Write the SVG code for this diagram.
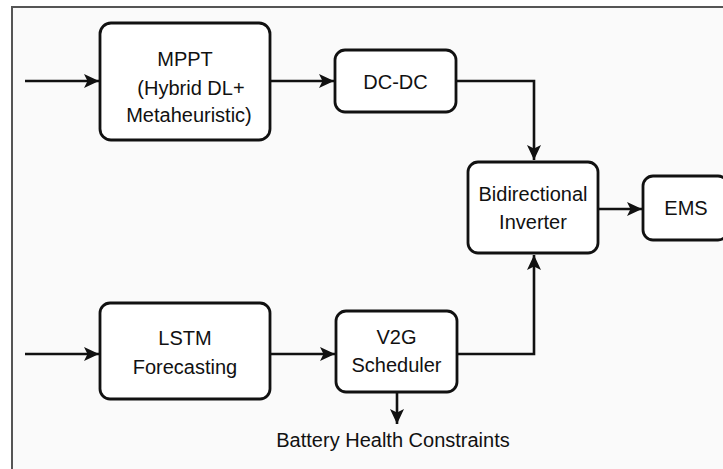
<svg xmlns="http://www.w3.org/2000/svg" width="723" height="469" viewBox="0 0 723 469">
<style>
.box{fill:#ffffff;stroke:#111;stroke-width:2.8}
.t{font-family:"Liberation Sans",Arial,sans-serif;font-size:20px;fill:#111;text-anchor:middle}
.c{fill:none;stroke:#111;stroke-width:2.6}
</style>
<defs>
<marker id="ah" viewBox="0 0 15 14" refX="15" refY="7" markerWidth="15" markerHeight="14" markerUnits="userSpaceOnUse" orient="auto">
<path d="M0,0 L15,7 L0,14 L3.5,7 Z" fill="#111"/>
</marker>
</defs>
<rect x="0" y="0" width="723" height="469" fill="#ffffff"/>
<rect x="12" y="7" width="711" height="462" fill="#fafafa"/>
<g id="frame" stroke="#555" stroke-width="2" fill="none">
<path d="M12,469 L12,7 L723,7"/>
</g>
<g id="connectors">
<path class="c" d="M25,81 L99,81" marker-end="url(#ah)"/>
<path class="c" d="M270,81 L334,81" marker-end="url(#ah)"/>
<path class="c" d="M456,81 L534,81 L534,160" marker-end="url(#ah)"/>
<path class="c" d="M598,209 L642,209" marker-end="url(#ah)"/>
<path class="c" d="M25,354 L99,354" marker-end="url(#ah)"/>
<path class="c" d="M270,354 L335,354" marker-end="url(#ah)"/>
<path class="c" d="M457,354 L534,354 L534,255" marker-end="url(#ah)"/>
<path class="c" d="M397,392 L397,424" marker-end="url(#ah)"/>
</g>
<g id="mppt">
<rect class="box" x="100" y="23" width="170" height="117" rx="11"/>
<text class="t" x="185" y="66">MPPT</text>
<text class="t" x="191" y="95">(Hybrid DL+</text>
<text class="t" x="189" y="122">Metaheuristic)</text>
</g>
<g id="dcdc">
<rect class="box" x="335" y="50" width="121" height="62" rx="10"/>
<text class="t" x="395.5" y="88.5">DC-DC</text>
</g>
<g id="inverter">
<rect class="box" x="468" y="162" width="130" height="91" rx="10"/>
<text class="t" x="533" y="201">Bidirectional</text>
<text class="t" x="533" y="229">Inverter</text>
</g>
<g id="ems">
<rect class="box" x="643" y="176" width="85" height="64" rx="10"/>
<text class="t" x="686" y="215">EMS</text>
</g>
<g id="lstm">
<rect class="box" x="100" y="303" width="170" height="96" rx="10"/>
<text class="t" x="185" y="345">LSTM</text>
<text class="t" x="185" y="374">Forecasting</text>
</g>
<g id="v2g">
<rect class="box" x="336" y="311" width="121" height="81" rx="10"/>
<text class="t" x="396.5" y="344">V2G</text>
<text class="t" x="396.5" y="372">Scheduler</text>
</g>
<g id="battery">
<text class="t" x="393" y="447">Battery Health Constraints</text>
</g>
</svg>
